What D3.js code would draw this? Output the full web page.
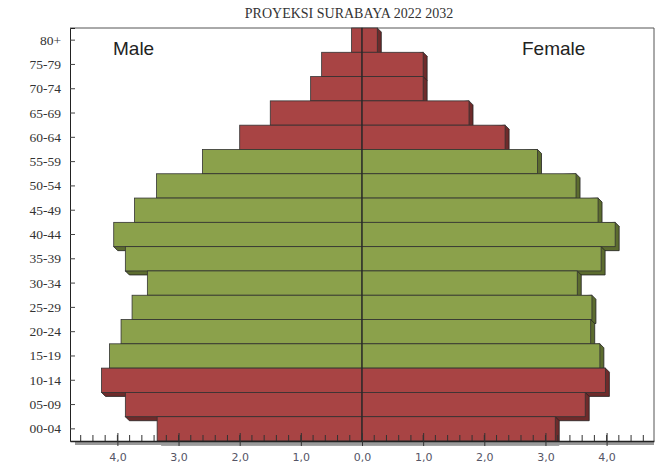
<!DOCTYPE html>
<html>
<head>
<meta charset="utf-8">
<script src="https://cdn.jsdelivr.net/npm/d3@7"></script>
<style>
  body { margin: 0; background: #fff; }
</style>
</head>
<body>
<div id="chart"></div>
<script>
// age groups, top to bottom
const ageGroups = ['80+', '75-79', '70-74', '65-69', '60-64', '55-59', '50-54', '45-49', '40-44',
  '35-39', '30-34', '25-29', '20-24', '15-19', '10-14', '05-09', '00-04'];
// percent of population
const maleValues = [0.17, 0.66, 0.84, 1.5, 2.0, 2.61, 3.36, 3.72, 4.06,
  3.87, 3.51, 3.76, 3.94, 4.13, 4.26, 3.87, 3.35];
const femaleValues = [0.25, 1.0, 1.0, 1.75, 2.34, 2.87, 3.5, 3.86, 4.14,
  3.91, 3.52, 3.76, 3.74, 3.89, 3.98, 3.65, 3.16];
// which groups are drawn green (productive age)
const productive = ['55-59', '50-54', '45-49', '40-44', '35-39', '30-34', '25-29', '20-24', '15-19'];
const xTicks = [-4, -3, -2, -1, 0, 1, 2, 3, 4];

const W = 656, H = 474;
const plotL = 70, plotR = 654, plotT = 28, plotB = 441;
const depth = 4;

const svg = d3.select('#chart').append('svg')
  .attr('width', W).attr('height', H);

const x = d3.scaleLinear().domain([-4.775, 4.775]).range([plotL, plotR]);
const y = d3.scaleBand().domain(ageGroups).range([plotT, plotB]).padding(0);

const front = d => productive.includes(d.age) ? '#8BA14B' : '#A84444';
const side = d => productive.includes(d.age) ? '#5C6C2F' : '#6E2B2B';

// one record per bar
const bars = [];
ageGroups.forEach((a, i) => {
  bars.push({ age: a, x0: x(-maleValues[i]), x1: x(0) });
  bars.push({ age: a, x0: x(0), x1: x(femaleValues[i]) });
});

// title
svg.append('text')
  .attr('x', 349).attr('y', 18)
  .attr('text-anchor', 'middle')
  .style('font-family', '"Liberation Serif", serif')
  .style('font-size', '14px')
  .style('fill', '#333')
  .text('PROYEKSI SURABAYA 2022 2032');

// frame
svg.append('path')
  .attr('d', `M${plotL},${plotT}H${plotR}V${plotB}`)
  .attr('fill', 'none').attr('stroke', '#555').attr('stroke-width', 1);

// merge both bars of a row into a single extruded block
const rows = ageGroups.map((a, i) => ({ age: a, x0: x(-maleValues[i]), x1: x(femaleValues[i]) }));

// depth faces first
svg.append('g').selectAll('path')
  .data(rows)
  .join('path')
  .attr('d', d => {
    const y0 = y(d.age), y1 = y0 + y.bandwidth();
    return `M${d.x1},${y0}L${d.x1 + depth},${y0 + depth}L${d.x1 + depth},${y1 + depth}` +
      `L${d.x0 + depth},${y1 + depth}L${d.x0},${y1}Z`;
  })
  .attr('fill', side)
  .attr('stroke', '#222').attr('stroke-width', 0.8);

// front faces
svg.append('g').selectAll('rect')
  .data(bars)
  .join('rect')
  .attr('x', d => d.x0)
  .attr('y', d => y(d.age))
  .attr('width', d => d.x1 - d.x0)
  .attr('height', y.bandwidth())
  .attr('fill', front)
  .attr('stroke', '#333').attr('stroke-width', 0.8);

// centre line
svg.append('line')
  .attr('x1', x(0)).attr('x2', x(0))
  .attr('y1', plotT).attr('y2', plotB)
  .attr('stroke', '#222').attr('stroke-width', 1);

// y axis
const yAxis = svg.append('g')
  .attr('transform', `translate(${plotL},0)`)
  .call(d3.axisRight(y).tickSize(5).tickFormat(''));
yAxis.select('.domain').attr('stroke', '#222');
yAxis.selectAll('.tick line').attr('stroke', '#444');

svg.append('g').selectAll('text')
  .data(ageGroups)
  .join('text')
  .attr('x', 61)
  .attr('y', d => y(d) + y.bandwidth() / 2 + 4.5)
  .attr('text-anchor', 'end')
  .style('font-family', '"Liberation Serif", serif')
  .style('font-size', '13.5px')
  .style('fill', '#333')
  .text(d => d);

// x axis shadow and line
svg.append('line')
  .attr('x1', plotL + 5).attr('x2', plotR)
  .attr('y1', plotB + 2.5).attr('y2', plotB + 2.5)
  .attr('stroke', '#999').attr('stroke-width', 3);

const minor = d3.range(-23, 24).map(v => v * 0.2);
svg.append('g').selectAll('line')
  .data(minor)
  .join('line')
  .attr('x1', d => x(d)).attr('x2', d => x(d))
  .attr('y1', plotB - 6).attr('y2', plotB)
  .attr('stroke', '#333').attr('stroke-width', 1);

const xAxis = svg.append('g')
  .attr('transform', `translate(0,${plotB})`)
  .call(d3.axisBottom(x).tickValues(xTicks).tickSize(5).tickSizeOuter(0)
    .tickFormat(d => d3.format('.1f')(Math.abs(d)).replace('.', ',')));
xAxis.select('.domain').attr('stroke', '#222').attr('stroke-width', 1.5);
xAxis.selectAll('.tick line').attr('y1', -8).attr('stroke', '#333');
xAxis.selectAll('.tick text')
  .attr('y', 12)
  .style('font-family', '"DejaVu Sans", sans-serif')
  .style('font-size', '11px')
  .style('fill', '#556');

// sex labels
svg.append('text')
  .attr('x', 113).attr('y', 55)
  .style('font-family', '"Liberation Sans", Arial, sans-serif')
  .style('font-size', '19px')
  .style('fill', '#222')
  .text('Male');
svg.append('text')
  .attr('x', 522).attr('y', 55)
  .style('font-family', '"Liberation Sans", Arial, sans-serif')
  .style('font-size', '19px')
  .style('fill', '#222')
  .text('Female');
</script>
</body>
</html>
